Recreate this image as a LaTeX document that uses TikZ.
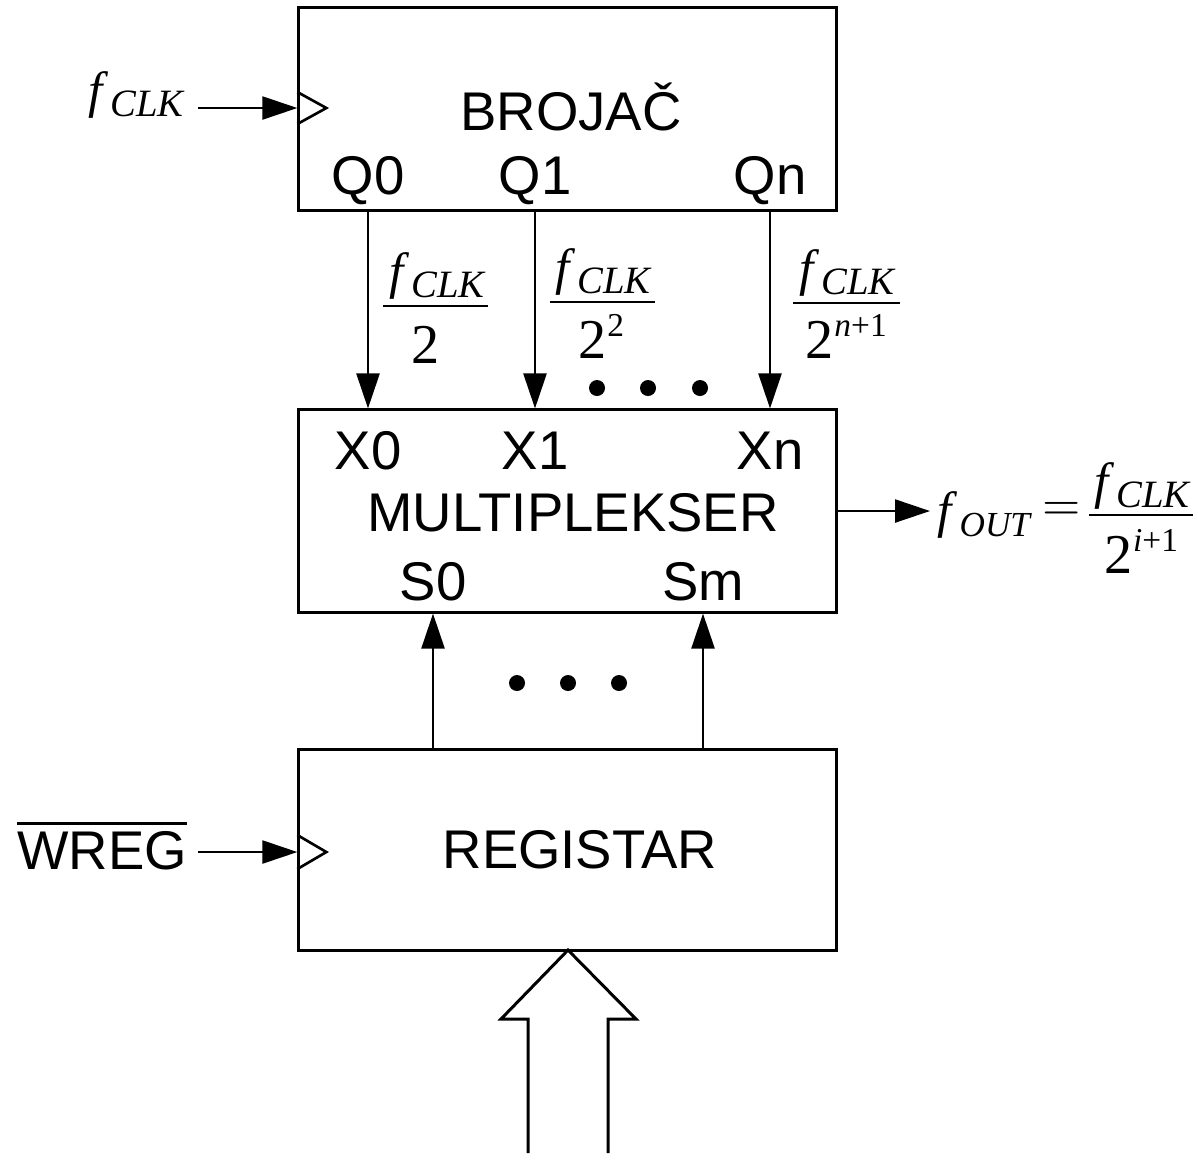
\documentclass[tikz,border=0pt]{standalone}
\usepackage{mathptmx}
\usepackage[no-math]{fontspec}
\setmainfont{Liberation Sans}
\newfontfamily\tms{Liberation Serif}
\usetikzlibrary{arrows.meta,calc}
% f with subscript, Times italic
\newcommand{\fsym}[2][11]{{\tms\fontsize{14.5}{17}\selectfont\itshape f\kern2.2pt\raisebox{-2.8pt}{\fontsize{#1}{13}\selectfont #2}}}
% 2 with superscript
\newcommand{\twopow}[1]{{\tms\fontsize{16}{19}\selectfont 2\kern0.3pt\raisebox{6pt}{\fontsize{9.5}{11}\selectfont #1}}}
\tikzset{
  blk/.style={draw, line width=0.85pt, inner sep=0pt},
  lbl/.style={inner sep=0pt, font=\fontsize{15.5}{18}\selectfont},
  mth/.style={inner sep=0pt, font=\fontsize{16}{19}\selectfont},
  sig/.style={line width=0.65pt, -{Triangle[length=0.35cm,width=0.23cm]}},
  clk/.style={line width=0.75pt},
  fbar/.style={line width=0.6pt},
  dotb/.style={fill=black, circle, inner sep=0pt, minimum size=0.16cm},
  bus/.style={line width=0.85pt, line join=miter}
}
\begin{document}
\begin{tikzpicture}[x=0.01cm, y=-0.01cm]
\useasboundingbox (0,0) rectangle (1198,1159);
% blocks
\node[blk, minimum width=5.37cm, minimum height=2.02cm] (cnt) at (567.5,109) {};
\node[blk, minimum width=5.37cm, minimum height=2.02cm] (mux) at (567.5,511) {};
\node[blk, minimum width=5.37cm, minimum height=2.00cm] (reg) at (567.5,850) {};
% block texts
\node[lbl] (tcnt) at (571,107) {BROJAČ};
\node[lbl] (q0) at (368,181) {Q0};
\node[lbl] (q1) at (535,181) {Q1};
\node[lbl] (qn) at (770,181) {Qn};
\node[lbl] (x0) at (368,451) {X0};
\node[lbl] (x1) at (535,451) {X1};
\node[lbl] (xn) at (770,451) {Xn};
\node[lbl] (tmux) at (573,513) {MULTIPLEKSER};
\node[lbl] (s0) at (433,582) {S0};
\node[lbl] (sm) at (703,582) {Sm};
\node[lbl] (treg) at (580,850) {REGISTAR};
% clock inputs
\node[mth, anchor=base west] (fclk) at (88,107) {\fsym{CLK}};
\coordinate (fclkA) at (198,108);
\coordinate (clkC) at (cnt.west |- fclkA);
\draw[sig] (fclkA) -- (clkC);
\draw[clk] ($(clkC)+(0,-16)$) -- ($(clkC)+(29,0)$) -- ($(clkC)+(0,16)$);
\node[lbl] (wreg) at (102,845) {$\overline{\mbox{WREG}}$};
\coordinate (wregA) at (198,852);
\coordinate (clkR) at (reg.west |- wregA);
\draw[sig] (wregA) -- (clkR);
\draw[clk] ($(clkR)+(0,-17)$) -- ($(clkR)+(29,0)$) -- ($(clkR)+(0,17)$);
% counter outputs to mux
\draw[sig] (cnt.south -| q0) -- (mux.north -| q0);
\draw[sig] (cnt.south -| q1) -- (mux.north -| q1);
\draw[sig] (cnt.south -| qn) -- (mux.north -| qn);
% fraction f/2
\node[mth, anchor=base] (fr0n) at (437,288) {\fsym{CLK}};
\draw[fbar] (383,306) -- (488,306);
\node[mth, anchor=base] (fr0d) at (426,363) {{\tms 2}};
% fraction f/2^2
\node[mth, anchor=base] (fr1n) at (603,284) {\fsym{CLK}};
\draw[fbar] (550,302) -- (655,302);
\node[mth, anchor=base] (fr1d) at (601,358) {\twopow{2}};
% fraction f/2^{n+1}
\node[mth, anchor=base] (fr2n) at (847,285) {\fsym{CLK}};
\draw[fbar] (793,303) -- (900,303);
\node[mth, anchor=base] (fr2d) at (846,358) {\twopow{\textit{n}+1}};
\node[dotb] (d1) at (597,388) {};
\node[dotb] (d2) at (648,388) {};
\node[dotb] (d3) at (700,388) {};
% mux output
\coordinate (outA) at (930,511);
\draw[sig] (mux.east |- outA) -- (outA);
\node[mth, anchor=base west] (fout) at (937,527) {\fsym[10]{OUT}};
\node[mth, font=\fontsize{14}{17}\selectfont] (eq) at (1062,511) {$=$};
\node[mth, anchor=base] (fr3n) at (1142,498) {\fsym{CLK}};
\draw[fbar] (1089,515) -- (1193,515);
\node[mth, anchor=base] (fr3d) at (1141,573) {\twopow{\textit{i}+1}};
% register to mux
\draw[sig] (reg.north -| s0) -- (mux.south -| s0);
\draw[sig] (reg.north -| sm) -- (mux.south -| sm);
\node[dotb] (d4) at (517,683) {};
\node[dotb] (d5) at (568,683) {};
\node[dotb] (d6) at (619,683) {};
% bus input
\coordinate (tip) at (568,950);
\draw[bus] ($(tip)+(-40,203)$) -- ($(tip)+(-40,69)$) -- ($(tip)+(-67,69)$) -- (tip) -- ($(tip)+(68,69)$) -- ($(tip)+(40,69)$) -- ($(tip)+(40,203)$);
\end{tikzpicture}
\end{document}
